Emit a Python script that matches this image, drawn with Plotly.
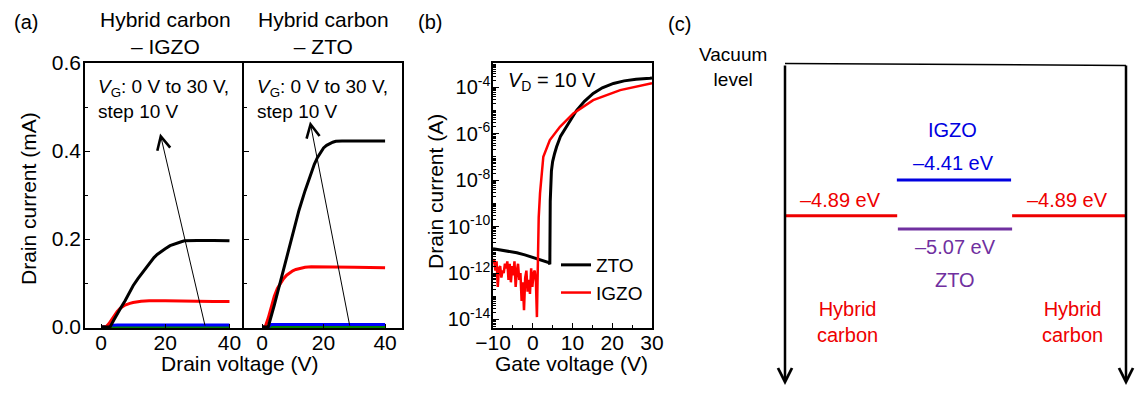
import plotly.graph_objects as go

FONT = "Liberation Sans, Arial, sans-serif"

# ---------------- Panel (a): output curves ----------------
# Hybrid carbon - IGZO
igzo_vd_30 = [0, 2.8, 4, 5, 6.5, 7.5, 9, 10, 11.5, 12.5, 14, 15, 16.5, 17.5, 19, 20, 21.5, 22.5, 24, 25, 26, 27.5, 30, 35, 40]
igzo_id_30 = [0, 0, 0.016, 0.03, 0.048, 0.06, 0.08, 0.094, 0.11, 0.12, 0.135, 0.145, 0.158, 0.165, 0.174, 0.178,
              0.185, 0.188, 0.192, 0.194, 0.196, 0.197, 0.197, 0.197, 0.196]
igzo_vd_20 = [0, 1.5, 2.5, 3.5, 5, 6, 7.5, 9, 10, 12.5, 15, 20, 25, 30, 35, 40]
igzo_id_20 = [0, 0, 0.008, 0.02, 0.035, 0.043, 0.05, 0.054, 0.056, 0.059, 0.06, 0.06, 0.06, 0.059, 0.058, 0.058]
igzo_vd_10 = [0, 2.5, 3, 5, 10, 20, 30, 40]
igzo_id_10 = [0, 0, 0.004, 0.005, 0.005, 0.005, 0.005, 0.005]
igzo_vd_0 = [0, 3, 10, 20, 30, 40]
igzo_id_0 = [0, 0.001, 0.001, 0.001, 0.001, 0.001]

# Hybrid carbon - ZTO
zto_vd_30 = [0, 2, 4, 6, 8, 10, 12, 14, 16, 17, 18, 19, 20, 21, 22, 23, 24, 26, 30, 35, 40]
zto_id_30 = [0, 0, 0.05, 0.105, 0.16, 0.215, 0.265, 0.31, 0.352, 0.37, 0.385, 0.397, 0.407, 0.413, 0.417, 0.42,
             0.422, 0.423, 0.423, 0.423, 0.423]
zto_vd_20 = [0, 1, 2, 3, 4, 5, 6, 7, 8, 9, 10, 11, 12, 14, 16, 20, 30, 40]
zto_id_20 = [0, 0, 0.02, 0.045, 0.07, 0.088, 0.1, 0.11, 0.118, 0.124, 0.128, 0.131, 0.133, 0.136, 0.137, 0.137,
             0.136, 0.135]
zto_vd_10 = [0, 2, 3, 5, 10, 20, 30, 40]
zto_id_10 = [0, 0, 0.006, 0.006, 0.006, 0.006, 0.006, 0.006]
zto_vd_0 = [0, 2, 3, 10, 20, 30, 40]
zto_id_0 = [0, 0, 0.001, 0.001, 0.001, 0.001, 0.001]

# VG sweep arrows (tail -> head, data units)
igzo_arrow = dict(tail=(32.5, 0.0), head=(18.4, 0.44))
zto_arrow = dict(tail=(28.6, 0.0), head=(15.6, 0.467))

# ---------------- Panel (b): transfer curves (log10 of drain current, A) ----------------
zto_vg = [-10, -8, -6, -4, -2, 0, 2, 4, 4.3, 4.4, 4.7, 5.0, 5.5, 6, 7, 8.5, 10, 11, 13, 15.2, 17.5, 20.3, 23, 26, 29.5, 30]
zto_log_id = [-10.95, -11.0, -11.07, -11.13, -11.22, -11.33, -11.42, -11.55, -11.62, -8.9, -7.6, -7.2, -6.85, -6.56, -6.1,
              -5.70, -5.3, -5.0, -4.6, -4.26, -4.02, -3.83, -3.72, -3.65, -3.61, -3.60]
igzo_vg = [-10, -9.7, -9.4, -9.1, -8.8, -8.5, -8.2, -7.9, -7.6, -7.3, -7.0, -6.7, -6.4, -6.1, -5.8, -5.5, -5.2, -4.9,
           -4.6, -4.3, -4.0, -3.7, -3.4, -3.1, -2.8, -2.5, -2.2, -1.9, -1.6, -1.3, -1.0, -0.7, -0.4, -0.1, 0.2, 0.5,
           0.8, 1.05, 1.15, 1.3, 1.5, 1.83, 2.66, 4.3, 6.85, 10.2, 15.2, 22, 29.5, 30]
igzo_log_id = [-11.6, -11.4, -11.9, -11.5, -12.6, -11.8, -11.7, -12.2, -11.9, -12.0, -11.6, -11.8, -11.5, -12.3, -11.6,
               -12.4, -11.7, -12.1, -11.5, -12.6, -11.9, -11.6, -12.3, -12.0, -13.2, -12.4, -13.6, -12.2, -11.9, -12.8,
               -12.3, -12.9, -11.8, -12.6, -12.0, -11.9, -12.4, -13.9, -12.9, -11.0, -9.6, -8.57, -6.99, -6.27, -5.70,
               -5.12, -4.55, -4.12, -3.83, -3.82]

log_tick_exps = [-4, -6, -8, -10, -12, -14]

# ---------------- Panel (c): energy levels (eV) ----------------
level_names = ["Hybrid carbon", "IGZO", "ZTO", "Hybrid carbon"]
level_energy = [-4.89, -4.41, -5.07, -4.89]
level_x0 = [0.0, 0.328, 0.331, 0.666]
level_x1 = [0.329, 0.663, 0.666, 1.0]
level_color = ["#ee0000", "#0000e0", "#7030a0", "#ee0000"]

BLACK, RED, BLUE, GREEN = "#000000", "#ff0000", "#0000ff", "#008000"

fig = go.Figure()

def add_out(x, y, color, xa, ya):
    fig.add_trace(go.Scatter(x=x, y=y, mode="lines", line=dict(color=color, width=3),
                             xaxis=xa, yaxis=ya, showlegend=False, hoverinfo="skip"))

add_out(igzo_vd_0, igzo_id_0, GREEN, "x", "y")
add_out(igzo_vd_10, igzo_id_10, BLUE, "x", "y")
add_out(igzo_vd_20, igzo_id_20, RED, "x", "y")
add_out(igzo_vd_30, igzo_id_30, BLACK, "x", "y")
add_out(zto_vd_0, zto_id_0, GREEN, "x2", "y2")
add_out(zto_vd_10, zto_id_10, BLUE, "x2", "y2")
add_out(zto_vd_20, zto_id_20, RED, "x2", "y2")
add_out(zto_vd_30, zto_id_30, BLACK, "x2", "y2")

fig.add_trace(go.Scatter(x=zto_vg, y=[10 ** v for v in zto_log_id], mode="lines", name="ZTO",
                         line=dict(color=BLACK, width=3), xaxis="x3", yaxis="y3"))
fig.add_trace(go.Scatter(x=igzo_vg, y=[10 ** v for v in igzo_log_id], mode="lines", name="IGZO",
                         line=dict(color=RED, width=2.5), xaxis="x3", yaxis="y3"))

for name, e, x0, x1, c in zip(level_names, level_energy, level_x0, level_x1, level_color):
    fig.add_trace(go.Scatter(x=[x0, x1], y=[e, e], mode="lines", line=dict(color=c, width=3),
                             xaxis="x4", yaxis="y4", showlegend=False, hoverinfo="skip"))

W, H = 1139, 400
def px(x):
    return x / W
def py(y):
    return 1 - y / H

tickfont = dict(family=FONT, size=21, color="black")
common_ax = dict(showline=True, linecolor="black", linewidth=1.5, mirror=True, showgrid=False, automargin=False,
                 zeroline=False, ticks="inside", tickcolor="black")

y_dom = [py(328), py(63)]
fig.update_layout(
    width=W, height=H, margin=dict(l=0, r=0, t=0, b=0, pad=0, autoexpand=False),
    paper_bgcolor="white", plot_bgcolor="white",
    font=dict(family=FONT, size=20, color="black"),
    xaxis=dict(domain=[px(85), px(242)], range=[-4.98, 43.9], tickvals=[0, 20, 40], ticklen=4, anchor="y",
               ticklabelstandoff=-5, tickfont=tickfont, **common_ax),
    yaxis=dict(domain=y_dom, range=[-0.002, 0.6], tickvals=[0, 0.2, 0.4, 0.6], tickformat=".1f", ticklen=5,
               tickfont=tickfont, ticklabelstandoff=-2,
               minor=dict(dtick=0.1, ticks="inside", ticklen=3, tickcolor="black"), anchor="x", **common_ax),
    xaxis2=dict(domain=[px(244), px(402)], range=[-5.85, 45.5], tickvals=[0, 20, 40], ticklen=4, anchor="y2",
                ticklabelstandoff=-5, tickfont=tickfont, **common_ax),
    yaxis2=dict(domain=y_dom, range=[-0.002, 0.6], tickvals=[0, 0.2, 0.4, 0.6], showticklabels=False, ticklen=5,
                minor=dict(dtick=0.1, ticks="inside", ticklen=3, tickcolor="black"), anchor="x2", **common_ax),
    xaxis3=dict(domain=[px(493), px(652)], range=[-10, 30], dtick=10, ticklen=5, ticklabelstandoff=-5,
                tickfont=tickfont,
                minor=dict(dtick=5, ticks="inside", ticklen=3, tickcolor="black"), anchor="y3", **common_ax),
    yaxis3=dict(domain=y_dom, type="log", range=[-14.37, -2.95],
                tickvals=[10.0 ** e for e in log_tick_exps],
                ticktext=["10<sup>%d</sup>" % e for e in log_tick_exps], ticklen=6,
                tickfont=dict(family=FONT, size=20, color="black"), ticklabelstandoff=-3,
                minor=dict(tickvals=[m * 10.0 ** d for d in range(-15, -2) for m in range(2, 10)]
                           + [10.0 ** e for e in (-13, -11, -9, -7, -5, -3)],
                           ticks="inside", ticklen=3, tickcolor="black"),
                anchor="x3", **common_ax),
    xaxis4=dict(domain=[px(785), px(1126)], range=[0, 1], visible=False, anchor="y4", automargin=False),
    yaxis4=dict(domain=[0, 1], range=[-7.373, -1.985], visible=False, anchor="x4", automargin=False),
    legend=dict(x=px(556), y=py(246), xanchor="left", yanchor="top", bgcolor="rgba(0,0,0,0)",
                font=dict(family=FONT, size=19, color="black"), itemwidth=30, tracegroupgap=0),
    showlegend=True,
)

ann = []
def text(x, y, s, size=20, color="black", xanchor="center", align="center", angle=0):
    ann.append(dict(x=px(x), y=py(y), xref="paper", yref="paper", text=s, showarrow=False,
                    font=dict(family=FONT, size=size, color=color), xanchor=xanchor, yanchor="middle",
                    align=align, textangle=angle))

# panel labels & titles
text(26, 22, "(a)", 20)
text(430, 22, "(b)", 20)
text(680, 24, "(c)", 20)
text(165, 33, "Hybrid carbon<br>– IGZO", 21)
text(323, 33, "Hybrid carbon<br>– ZTO", 21)
text(28, 199, "Drain current (mA)", 21, angle=-90)
text(240, 363, "Drain voltage (V)", 21)
text(435, 192, "Drain current (A)", 21, angle=-90)
text(571, 363, "Gate voltage (V)", 21)
text(96, 99, "<i>V</i><sub>G</sub>: 0 V to 30 V,<br>step 10 V", 19, xanchor="left", align="left")
text(255, 99, "<i>V</i><sub>G</sub>: 0 V to 30 V,<br>step 10 V", 19, xanchor="left", align="left")
text(506, 82, "<i>V</i><sub>D</sub> = 10 V", 20, xanchor="left", align="left")

# panel c texts
text(733, 67, "Vacuum<br>level", 19)
text(952, 130, "IGZO", 20, color="#0000e0")
text(953, 163, "–4.41 eV", 20, color="#0000e0")
text(840, 200, "–4.89 eV", 20, color="#ee0000")
text(1067, 200, "–4.89 eV", 20, color="#ee0000")
text(955, 247, "–5.07 eV", 20, color="#7030a0")
text(955, 280, "ZTO", 20, color="#7030a0")
text(848, 322, "Hybrid<br>carbon", 20, color="#ee0000")
text(1072, 322, "Hybrid<br>carbon", 20, color="#ee0000")

# VG sweep arrows in (a)
for arr, xr, yr in ((igzo_arrow, "x", "y"), (zto_arrow, "x2", "y2")):
    ann.append(dict(x=arr["head"][0], y=arr["head"][1], ax=arr["tail"][0], ay=arr["tail"][1],
                    xref=xr, yref=yr, axref=xr, ayref=yr, showarrow=True, arrowhead=5,
                    arrowsize=2.6, arrowwidth=1, arrowcolor="black", text=""))

# vertical energy axes in (c)
for xv in (0.0, 1.0):
    ann.append(dict(x=xv, y=py(385), xref="x4", yref="paper", ax=0, ay=-321, showarrow=True,
                    arrowhead=5, arrowsize=1.1, arrowwidth=2.5, arrowcolor="black", text=""))

fig.update_layout(annotations=ann)
fig.add_shape(type="line", xref="x4", yref="paper", x0=0, x1=1, y0=py(63.5), y1=py(65.5),
              line=dict(color="black", width=1.5))

fig.write_html("out.html", config={"displayModeBar": False},
               post_script="document.body.style.margin='0px';document.body.style.overflow='hidden';")
